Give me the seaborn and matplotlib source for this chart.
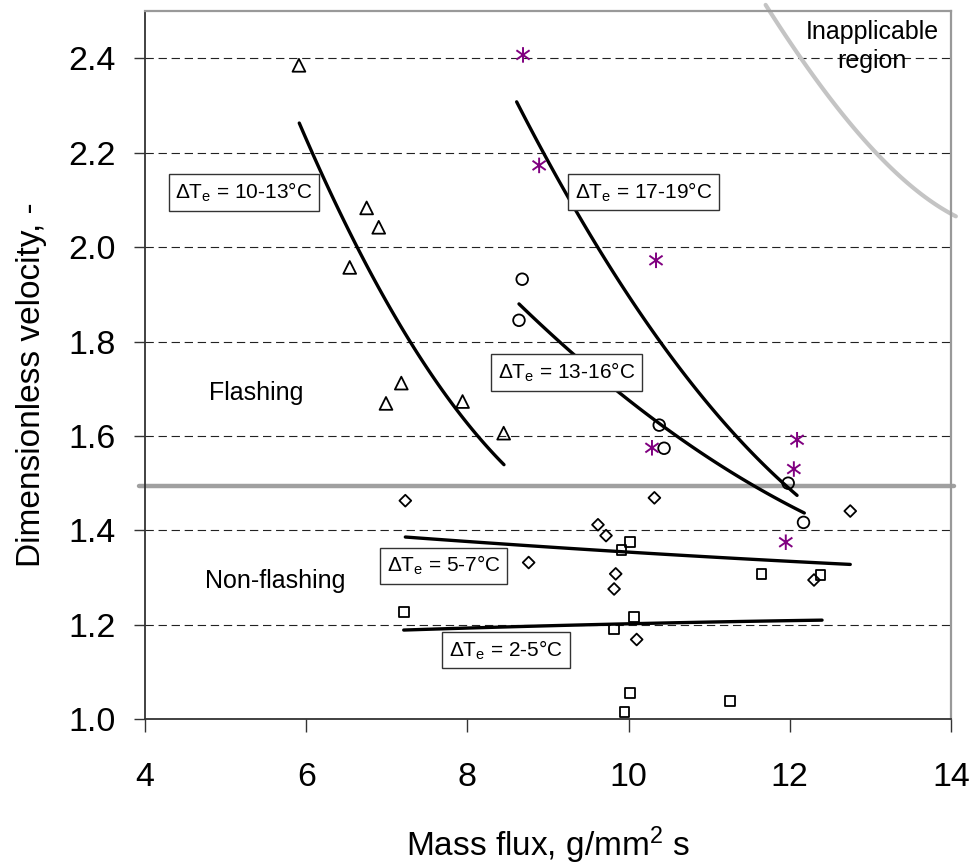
import matplotlib
matplotlib.use("Agg")
import matplotlib.pyplot as plt
from matplotlib.path import Path
import seaborn as sns
import numpy as np

# ---------------- data ----------------
tri_x = [5.91, 6.75, 6.90, 6.54, 7.18, 6.99, 7.94, 8.45]
tri_y = [2.385, 2.083, 2.042, 1.957, 1.712, 1.669, 1.673, 1.606]

star_x = [8.69, 8.89, 10.34, 10.29, 12.09, 12.05, 11.95]
star_y = [2.407, 2.173, 1.972, 1.575, 1.592, 1.530, 1.375]

circ_x = [8.68, 8.64, 10.38, 10.44, 11.98, 12.17]
circ_y = [1.932, 1.845, 1.623, 1.574, 1.500, 1.417]

diam_x = [7.23, 8.76, 10.32, 9.62, 9.72, 9.84, 9.82, 10.10, 12.75, 12.30]
diam_y = [1.463, 1.332, 1.469, 1.412, 1.389, 1.308, 1.276, 1.169, 1.441, 1.295]

sq_x = [7.21, 10.02, 9.91, 11.65, 12.38, 10.07, 9.82, 10.02, 9.95, 11.26]
sq_y = [1.227, 1.376, 1.359, 1.308, 1.306, 1.216, 1.191, 1.056, 1.015, 1.039]

# trend curves
c1013_x = [5.914, 6.056, 6.295, 6.618, 6.957, 7.288, 7.66, 8.156, 8.454]
c1013_y = [2.270, 2.200, 2.118, 2.000, 1.900, 1.800, 1.703, 1.600, 1.535]

c1719_x = [8.611, 8.934, 9.323, 9.604, 10.04, 10.37, 10.886, 11.34, 11.94, 12.09]
c1719_y = [2.314, 2.200, 2.079, 2.000, 1.888, 1.800, 1.699, 1.600, 1.495, 1.472]

c1316_x = [8.64, 9.21, 9.81, 10.38, 10.64, 11.51, 12.18]
c1316_y = [1.880, 1.790, 1.700, 1.625, 1.597, 1.500, 1.436]

c57_x = [7.23, 9.91, 12.75]
c57_y = [1.386, 1.355, 1.328]

c25_x = [7.21, 9.93, 12.40]
c25_y = [1.189, 1.202, 1.210]

bound_x = [11.70, 11.75, 12.13, 12.58, 13.06, 14.00, 14.06]
bound_y = [2.513, 2.500, 2.400, 2.300, 2.200, 2.072, 2.064]

flash_limit = 1.495

labels = ["ΔT$_\\mathregular{e}$ = 10-13°C", "ΔT$_\\mathregular{e}$ = 17-19°C",
          "ΔT$_\\mathregular{e}$ = 13-16°C", "ΔT$_\\mathregular{e}$ = 5-7°C",
          "ΔT$_\\mathregular{e}$ = 2-5°C"]
label_x = [5.226, 10.183, 9.23, 7.707, 8.479]
label_y = [2.115, 2.117, 1.734, 1.325, 1.147]

x_ticks = [4, 6, 8, 10, 12, 14]
y_ticks = [1.0, 1.2, 1.4, 1.6, 1.8, 2.0, 2.2, 2.4]

# ---------------- style ----------------
sns.set_style("white")
plt.rcParams["font.family"] = ["Liberation Sans", "DejaVu Sans"]
plt.rcParams["mathtext.fontset"] = "custom"
plt.rcParams["mathtext.rm"] = "Liberation Sans"
plt.rcParams["mathtext.it"] = "Liberation Sans:italic"
plt.rcParams["mathtext.bf"] = "Liberation Sans:bold"
plt.rcParams["lines.scale_dashes"] = False
for k in ["text.color", "axes.labelcolor", "xtick.color", "ytick.color"]:
    plt.rcParams[k] = "black"

fig = plt.figure(figsize=(9.75, 8.66), dpi=100)
ax = fig.add_axes([0.1487, 0.1694, 0.8267, 0.8179])

# grid
ax.set_yticks(y_ticks)
ax.set_xticks(x_ticks)
ax.yaxis.grid(True, color="#222222", linewidth=0.8, linestyle=(0, (6, 3.4)))
ax.xaxis.grid(False)
ax.set_axisbelow(True)

# flashing boundary and inapplicable region
ax.axhline(flash_limit, xmin=-0.007, xmax=1.004, color="#a0a0a0", linewidth=3.2,
           clip_on=False, zorder=2)
sns.regplot(x=bound_x, y=bound_y, order=3, ci=None, scatter=False, truncate=True,
            color="#c4c4c4", ax=ax,
            line_kws=dict(linewidth=3.0, clip_on=False, zorder=2))

# trend curves
for cx, cy in [(c1013_x, c1013_y), (c1719_x, c1719_y), (c1316_x, c1316_y),
               (c57_x, c57_y), (c25_x, c25_y)]:
    sns.regplot(x=cx, y=cy, order=2, ci=None, scatter=False, truncate=True,
                color="black", ax=ax,
                line_kws=dict(linewidth=2.4, zorder=3, solid_capstyle="round"))

# markers
def open_scatter(x, y, marker, s, lw=1.3, col="black"):
    sns.scatterplot(x=x, y=y, marker=marker, s=s, color=col,
                    edgecolor=col, linewidth=lw, ax=ax, zorder=4, clip_on=False)
    ax.collections[-1].set_facecolor("none")

open_scatter(tri_x, tri_y, "^", 85)
open_scatter(circ_x, circ_y, "o", 70)
open_scatter(diam_x, diam_y, "D", 36)
open_scatter(sq_x, sq_y, "s", 48)

star_path = Path([(0, -1), (0, 1), (-0.85, -0.6), (0.85, 0.6), (-0.85, 0.6), (0.85, -0.6)],
                 [Path.MOVETO, Path.LINETO] * 3)
open_scatter(star_x, star_y, star_path, 125, lw=1.4, col="#800080")

# text boxes
for t, lx, ly in zip(labels, label_x, label_y):
    ax.text(lx, ly, t, fontsize=15, ha="center", va="center", zorder=5,
            bbox=dict(boxstyle="square,pad=0.32", fc="white", ec="#333333", lw=1.0))

ax.text(5.377, 1.692, "Flashing", fontsize=18, ha="center", va="center")
ax.text(5.613, 1.293, "Non-flashing", fontsize=18, ha="center", va="center")
ax.text(13.02, 2.425, "Inapplicable\nregion", fontsize=18, ha="center",
        va="center", multialignment="center", linespacing=1.3)

# axes
ax.set_xlim(4, 14)
ax.set_ylim(1.0, 2.5)
ax.set_yticklabels([f"{v:.1f}" for v in y_ticks])
ax.set_xticklabels([str(v) for v in x_ticks])
ax.tick_params(axis="y", direction="out", length=8, width=1.0, color="#333333",
               labelsize=24.5, pad=13, left=True)
ax.tick_params(axis="x", direction="out", length=9, width=1.0, color="#333333",
               labelsize=24.5, pad=22, bottom=True)

for side in ["left", "bottom"]:
    ax.spines[side].set_color("#333333")
    ax.spines[side].set_linewidth(1.3)
for side in ["top", "right"]:
    ax.spines[side].set_color("#999999")
    ax.spines[side].set_linewidth(1.6)

ax.set_xlabel("Mass flux, g/mm$^\\mathregular{2}$ s", fontsize=24)
ax.set_ylabel("Dimensionless velocity, -", fontsize=24)
ax.xaxis.set_label_coords(0.5, -0.148)
ax.yaxis.set_label_coords(-0.122, 0.472)

fig.savefig("out.png", dpi=100)
